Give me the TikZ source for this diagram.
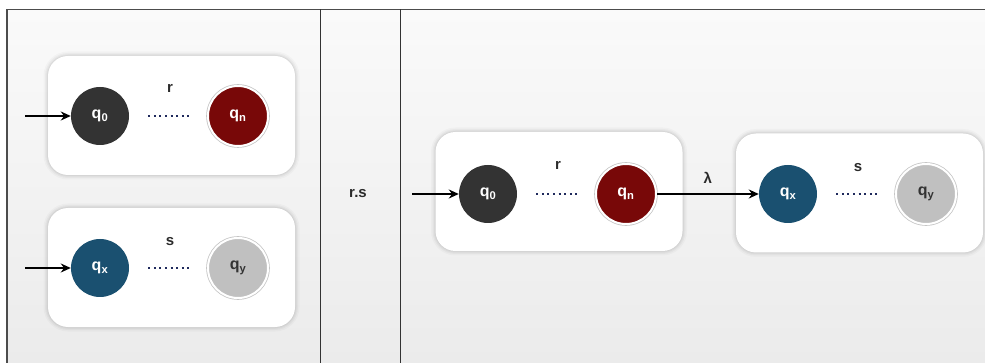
\documentclass[tikz,border=0pt]{standalone}
\usepackage{fontspec}
\setmainfont{Liberation Sans}
\usetikzlibrary{arrows.meta}
\definecolor{bgtop}{HTML}{FAFAFA}
\definecolor{bgbot}{HTML}{EBEBEB}
\definecolor{stdark}{HTML}{333333}
\definecolor{stred}{HTML}{780808}
\definecolor{stblue}{HTML}{1A5070}
\definecolor{stgray}{HTML}{C0C0C0}
\definecolor{dotblue}{HTML}{1F2A5C}
\definecolor{lbl}{HTML}{2B2B2B}
\tikzset{
  box/.style={draw=none, fill=white, rounded corners=20pt, minimum width=247pt, minimum height=119pt,
    preaction={draw=black, draw opacity=0.025, line width=9pt},
    preaction={draw=black, draw opacity=0.03, line width=6pt},
    preaction={draw=black, draw opacity=0.035, line width=3.5pt},
    preaction={draw=black, draw opacity=0.04, line width=1.5pt}},
  state/.style={circle, minimum size=58pt, inner sep=0pt, font=\bfseries\fontsize{16}{18}\selectfont, text=white},
  startst/.style={state, fill=stdark},
  ringed/.style={minimum size=60pt, draw=white, line width=2pt, preaction={draw=gray!45, line width=3.6pt}},
  finalst/.style={state, fill=stred, ringed},
  xst/.style={state, fill=stblue},
  yst/.style={state, fill=stgray, ringed, text=stdark},
  lab/.style={font=\bfseries\fontsize{15}{17}\selectfont, text=lbl},
  dotsline/.style={draw=dotblue, line width=2pt, dash pattern=on 2pt off 3.6pt},
  arr/.style={-{Stealth[length=10pt,width=9pt]}, line width=1.6pt, black},
}
\begin{document}
\begin{tikzpicture}[x=1pt,y=-1pt]
\useasboundingbox (0,0) rectangle (985,363);
\fill[top color=bgtop, bottom color=bgbot] (7,9.5) rectangle (985,363);
\draw[gray!60!black, line width=1.5pt] (7,363) -- (7,9.5) -- (985,9.5);
\draw[stdark, line width=1pt] (320,9.5) -- (320,363);
\draw[stdark, line width=1pt] (400,9.5) -- (400,363);

% left column
\node[box] (b1) at (171.5,115.5) {};
\node[box] (b2) at (171.5,267.5) {};
\node[startst] (a0) at (100,116) {q\textsubscript{0}};
\node[finalst] (an) at (238,116) {q\textsubscript{n}};
\node[lab] (ar) at (170,88) {r};
\draw[dotsline] ([xshift=19pt]a0.east) -- ([xshift=-16pt]an.west);
\coordinate (ain) at (25,116);
\draw[arr] (ain) -- (a0);

\node[xst] (ax) at (100,268) {q\textsubscript{x}};
\node[yst] (ay) at (238,268) {q\textsubscript{y}};
\node[lab] (as) at (170,242) {s};
\draw[dotsline] ([xshift=19pt]ax.east) -- ([xshift=-16pt]ay.west);
\coordinate (axin) at (25,268);
\draw[arr] (axin) -- (ax);

% middle
\node[lab] (rs) at (358,194) {r.s};

% right
\node[box] (b3) at (559,191.5) {};
\node[box] (b4) at (859.5,193) {};
\node[startst] (c0) at (488,194) {q\textsubscript{0}};
\node[finalst] (cn) at (626,194) {q\textsubscript{n}};
\node[lab] (cr) at (558,165) {r};
\draw[dotsline] ([xshift=19pt]c0.east) -- ([xshift=-16pt]cn.west);
\coordinate (cin) at (412,194);
\draw[arr] (cin) -- (c0);

\node[xst] (cx) at (788,194) {q\textsubscript{x}};
\node[yst] (cy) at (926,194) {q\textsubscript{y}};
\node[lab] (cs) at (858,168) {s};
\draw[dotsline] ([xshift=19pt]cx.east) -- ([xshift=-16pt]cy.west);
\draw[arr] (cn) -- (cx) node[lab, midway, above=6pt] (lam) {λ};
\end{tikzpicture}
\end{document}
